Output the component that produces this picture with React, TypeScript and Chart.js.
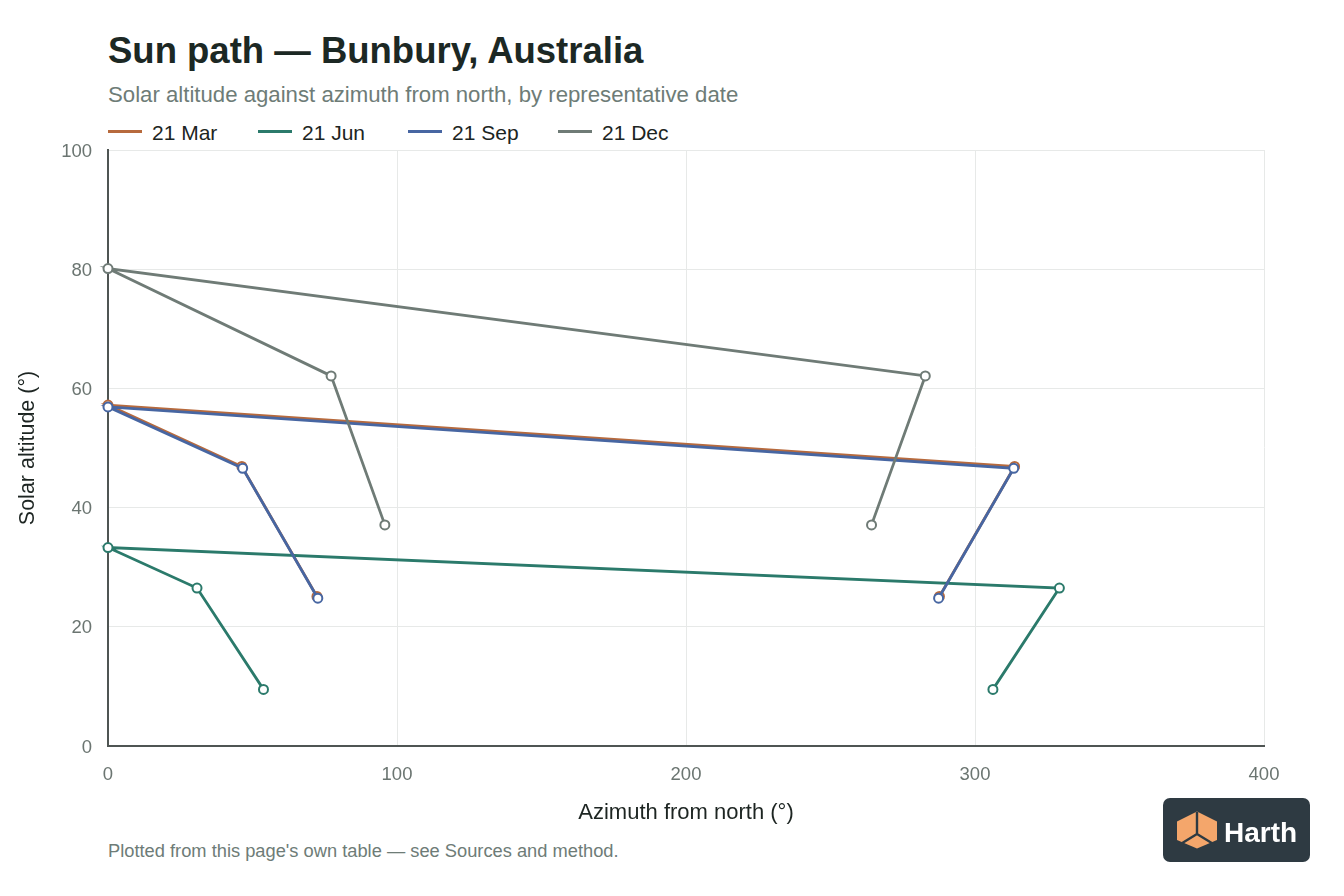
import React, { useEffect, useRef } from "react";
import { Chart, registerables } from "chart.js";

Chart.register(...registerables);

const FONT = "'Liberation Sans', Arial, Helvetica, sans-serif";

// Series (hours 08, 10, 12, 14, 16 local solar time)
const seriesLabels = ["21 Mar", "21 Jun", "21 Sep", "21 Dec"];
const seriesColors = ["#b76a3d", "#2b7a6b", "#4766a2", "#6f7b76"];

const marAzimuth = [72.3, 46.3, 0, 313.7, 287.7];
const marAltitude = [25.1, 46.9, 57.2, 46.9, 25.1];

const junAzimuth = [53.8, 30.8, 0, 329.2, 306.2];
const junAltitude = [9.5, 26.5, 33.3, 26.5, 9.5];

const sepAzimuth = [72.6, 46.6, 0, 313.4, 287.4];
const sepAltitude = [24.8, 46.6, 56.9, 46.6, 24.8];

const decAzimuth = [95.8, 77.2, 0, 282.8, 264.2];
const decAltitude = [37.1, 62.1, 80.1, 62.1, 37.1];

const xTickValues = [0, 100, 200, 300, 400];
const yTickValues = [0, 20, 40, 60, 80, 100];

const titleText = "Sun path \u2014 Bunbury, Australia";
const subtitleText = "Solar altitude against azimuth from north, by representative date";
const xAxisTitle = "Azimuth from north (\u00b0)";
const yAxisTitle = "Solar altitude (\u00b0)";
const footerText = "Plotted from this page's own table \u2014 see Sources and method.";

const seriesAz = [marAzimuth, junAzimuth, sepAzimuth, decAzimuth];
const seriesAlt = [marAltitude, junAltitude, sepAltitude, decAltitude];

function ChartCanvas() {
  const ref = useRef<HTMLCanvasElement | null>(null);
  useEffect(() => {
    if (!ref.current) return;
    const datasets = seriesLabels.map((label, i) => ({
      label,
      data: seriesAz[i].map((x, j) => ({ x, y: seriesAlt[i][j] })),
      showLine: true,
      borderColor: seriesColors[i],
      backgroundColor: "#ffffff",
      pointBackgroundColor: "#ffffff",
      pointBorderColor: seriesColors[i],
      pointRadius: 4.5,
      pointBorderWidth: 2,
      borderWidth: 2.8,
      tension: 0,
      clip: false as any,
      order: seriesLabels.length - i,
    }));
    const tickFont = { family: FONT, size: 18.5 };
    const chart = new Chart(ref.current, {
      type: "scatter",
      data: { datasets },
      options: {
        animation: false,
        responsive: false,
        maintainAspectRatio: false,
        layout: { padding: { top: 30, right: 80, left: 0, bottom: 0 } },
        plugins: {
          legend: { display: false },
          tooltip: { enabled: false },
          title: { display: false },
        },
        scales: {
          x: {
            type: "linear",
            min: xTickValues[0],
            max: xTickValues[xTickValues.length - 1],
            afterBuildTicks: (s: any) => {
              s.ticks = xTickValues.map((v) => ({ value: v }));
            },
            ticks: { color: "#6b7571", font: tickFont, padding: 18 },
            grid: { color: "#e7e9e8", lineWidth: 1, drawTicks: false },
            border: { color: "#4f5553", width: 2 },
            title: {
              display: true,
              text: xAxisTitle,
              color: "#1d2522",
              font: { family: FONT, size: 22 },
              padding: { top: 0, bottom: 14 },
            },
            afterFit: (s: any) => {
              s.height = 94;
            },
          },
          y: {
            type: "linear",
            min: yTickValues[0],
            max: yTickValues[yTickValues.length - 1],
            afterBuildTicks: (s: any) => {
              s.ticks = yTickValues.map((v) => ({ value: v }));
            },
            ticks: { color: "#6b7571", font: tickFont, padding: 16, labelOffset: 1.5 },
            grid: { color: "#e7e9e8", lineWidth: 1, drawTicks: false },
            border: { color: "#4f5553", width: 2 },
            title: {
              display: true,
              text: yAxisTitle,
              color: "#1d2522",
              font: { family: FONT, size: 21.5 },
              padding: { top: 15, bottom: 0 },
            },
            afterFit: (s: any) => {
              s.width = 108;
            },
          },
        },
      } as any,
    });
    return () => chart.destroy();
  }, []);
  return (
    <canvas
      ref={ref}
      width={1344}
      height={720}
      style={{ position: "absolute", left: 0, top: 120, width: 1344, height: 720 }}
    />
  );
}

function Logo() {
  return (
    <svg
      width={150}
      height={66}
      viewBox="1162 797 150 66"
      style={{ position: "absolute", left: 1162, top: 797 }}
    >
      <rect x={1163} y={798} width={147} height={64} rx={7} fill="#2e3a42" />
      <polygon
        points="1197,811.5 1217,821.5 1217,840 1197,848.5 1177,840 1177,821.5"
        fill="#f4a66b"
      />
      <path
        d="M1197,812 L1197,834 M1197,834 L1179,845 M1197,834 L1215,845"
        stroke="#2e3a42"
        strokeWidth={2.4}
        fill="none"
      />
      <text
        x={1224}
        y={842}
        fill="#ffffff"
        fontFamily={FONT}
        fontWeight="bold"
        fontSize={28}
      >
        Harth
      </text>
    </svg>
  );
}

export default function App() {
  useEffect(() => {
    document.body.style.margin = "0";
  }, []);
  return (
    <div
      style={{
        position: "fixed",
        left: 0,
        top: 0,
        width: 1344,
        height: 896,
        background: "#ffffff",
        fontFamily: FONT,
        overflow: "hidden",
      }}
    >
      <div
        style={{
          position: "absolute",
          left: 108,
          top: 33,
          fontSize: 36.5,
          lineHeight: "36.5px",
          fontWeight: "bold",
          color: "#1c2824",
          whiteSpace: "nowrap",
        }}
      >
        {titleText}
      </div>
      <div
        style={{
          position: "absolute",
          left: 108,
          top: 84.2,
          fontSize: 22.2,
          lineHeight: "22.2px",
          color: "#6e7c77",
          whiteSpace: "nowrap",
        }}
      >
        {subtitleText}
      </div>
      {seriesLabels.map((label, i) => (
        <div key={label}>
          <div
            style={{
              position: "absolute",
              left: 108 + i * 150,
              top: 130,
              width: 34,
              height: 3,
              background: seriesColors[i],
            }}
          />
          <div
            style={{
              position: "absolute",
              left: 152 + i * 150,
              top: 121.5,
              fontSize: 21,
              lineHeight: "21px",
              color: "#1c2522",
              whiteSpace: "nowrap",
            }}
          >
            {label}
          </div>
        </div>
      ))}
      <ChartCanvas />
      <div
        style={{
          position: "absolute",
          left: 108,
          top: 842.3,
          fontSize: 18.3,
          lineHeight: "18.3px",
          color: "#6e7c77",
          whiteSpace: "nowrap",
        }}
      >
        {footerText}
      </div>
      <Logo />
    </div>
  );
}
